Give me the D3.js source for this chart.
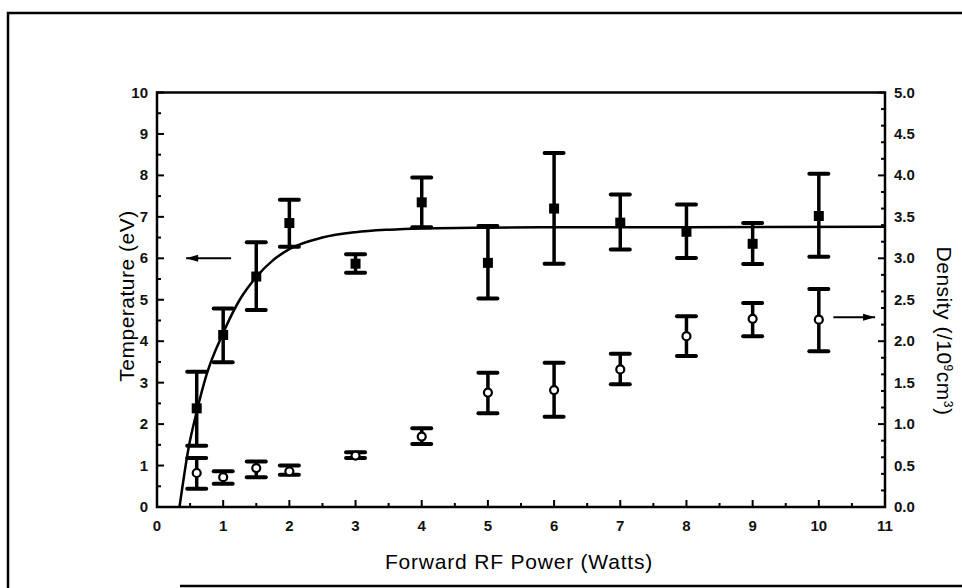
<!DOCTYPE html>
<html><head><meta charset="utf-8">
<script src="https://cdn.jsdelivr.net/npm/d3@7"></script>
<style>
body{margin:0;background:#fff;}
svg{display:block;font-family:"Liberation Sans",Arial,sans-serif;}
</style></head>
<body>
<svg id="c" width="962" height="588"></svg>
<script>
// Temperature (eV), filled squares, left axis
const powerT = [0.6, 1, 1.5, 2, 3, 4, 5, 6, 7, 8, 9, 10];
const tempVal = [2.38, 4.15, 5.56, 6.85, 5.87, 7.35, 5.89, 7.2, 6.86, 6.64, 6.35, 7.02];
const tempLo  = [1.48, 3.49, 4.75, 6.28, 5.65, 6.75, 5.03, 5.87, 6.21, 6.01, 5.86, 6.04];
const tempHi  = [3.26, 4.79, 6.39, 7.41, 6.1, 7.95, 6.78, 8.54, 7.54, 7.3, 6.85, 8.04];
// Density (/10^9 cm^3), open circles, right axis
const powerD = [0.6, 1, 1.5, 2, 3, 4, 5, 6, 7, 8, 9, 10];
const densVal = [0.41, 0.36, 0.47, 0.43, 0.62, 0.85, 1.38, 1.41, 1.66, 2.06, 2.27, 2.26];
const densLo  = [0.22, 0.28, 0.36, 0.39, 0.59, 0.76, 1.13, 1.09, 1.48, 1.82, 2.06, 1.88];
const densHi  = [0.59, 0.43, 0.55, 0.5, 0.66, 0.95, 1.62, 1.74, 1.85, 2.3, 2.46, 2.63];
// Fit curve (temperature)
const fitX = [0.34, 0.48, 0.6, 0.75, 1, 1.25, 1.5, 1.75, 2, 2.5, 3, 3.5, 4, 5, 6, 8, 11];
const fitY = [0, 1.45, 2.3, 3.2, 4.2, 5.0, 5.55, 5.95, 6.22, 6.5, 6.63, 6.69, 6.72, 6.74, 6.75, 6.75, 6.76];
// Tick labels
const xTicks = [0,1,2,3,4,5,6,7,8,9,10,11];
const yLeftTicks = [0,1,2,3,4,5,6,7,8,9,10];
const yRightTicks = [0,0.5,1,1.5,2,2.5,3,3.5,4,4.5,5];

const svg = d3.select("#c");
const L = 157, R = 885, T = 92.5, B = 507;
const x = d3.scaleLinear().domain([0,11]).range([L,R]);
const yL = d3.scaleLinear().domain([0,10]).range([B,T]);
const yR = d3.scaleLinear().domain([0,5]).range([B,T]);

// outer frame
svg.append("path").attr("d",`M8,588 L8,13 L962,13`).attr("fill","none").attr("stroke","#000").attr("stroke-width",2.5);
svg.append("line").attr("x1",180).attr("x2",962).attr("y1",586).attr("y2",586).attr("stroke","#000").attr("stroke-width",2.5);

const isMajor = (d,step)=>Math.abs(d/step-Math.round(d/step))<1e-6;

// bottom axis (inward ticks)
const gx = svg.append("g");
gx.selectAll("line").data(x.ticks(22)).join("line")
  .attr("x1",d=>x(d)).attr("x2",d=>x(d)).attr("y1",B).attr("y2",d=>B-(isMajor(d,1)?7:4))
  .attr("stroke","#000").attr("stroke-width",2);
gx.selectAll("text").data(xTicks).join("text").attr("x",d=>x(d)).attr("y",B+24)
  .attr("text-anchor","middle").attr("font-size",15).attr("font-weight","bold").attr("fill","#111").text(d=>d);

// left axis
const gl = svg.append("g");
gl.selectAll("line").data(yL.ticks(20)).join("line")
  .attr("y1",d=>yL(d)).attr("y2",d=>yL(d)).attr("x1",L).attr("x2",d=>L+(isMajor(d,1)?7:4))
  .attr("stroke","#000").attr("stroke-width",2);
gl.selectAll("text").data(yLeftTicks).join("text").attr("x",L-9).attr("y",d=>yL(d)+5)
  .attr("text-anchor","end").attr("font-size",15).attr("font-weight","bold").attr("fill","#111").text(d=>d);

// right axis
const gr = svg.append("g");
gr.selectAll("line").data(yR.ticks(20)).join("line")
  .attr("y1",d=>yR(d)).attr("y2",d=>yR(d)).attr("x1",R).attr("x2",d=>R-(isMajor(d,0.5)?7:4))
  .attr("stroke","#000").attr("stroke-width",2);
gr.selectAll("text").data(yRightTicks).join("text").attr("x",R+9).attr("y",d=>yR(d)+5)
  .attr("text-anchor","start").attr("font-size",15).attr("font-weight","bold").attr("fill","#111").text(d=>d3.format(".1f")(d));

// plot frame
svg.append("rect").attr("x",L).attr("y",T).attr("width",R-L).attr("height",B-T)
  .attr("fill","none").attr("stroke","#000").attr("stroke-width",2.5);

// axis titles
svg.append("text").attr("transform",`translate(134,296) rotate(-90)`)
  .attr("text-anchor","middle").attr("font-size",21).attr("letter-spacing",0.5).text("Temperature (eV)");
svg.append("text").attr("x",(L+R)/2-2).attr("y",569)
  .attr("text-anchor","middle").attr("font-size",21).attr("letter-spacing",0.8).text("Forward RF Power (Watts)");
const dt = svg.append("text").attr("transform",`translate(937,331) rotate(90)`)
  .attr("text-anchor","middle").attr("font-size",21).attr("letter-spacing",0.5);
dt.append("tspan").text("Density (/10");
dt.append("tspan").attr("dy",-7).attr("font-size",12).text("9");
dt.append("tspan").attr("dy",7).text("cm");
dt.append("tspan").attr("dy",-7).attr("font-size",12).text("3");
dt.append("tspan").attr("dy",7).text(")");

// fit curve
const fit = fitX.map((v,i)=>[v,fitY[i]]);
svg.append("path").datum(fit)
  .attr("d",d3.line().x(d=>x(d[0])).y(d=>yL(d[1])).curve(d3.curveMonotoneX))
  .attr("fill","none").attr("stroke","#000").attr("stroke-width",2.5);

// error bars
function errBars(xs, lo, hi, ys){
  const g = svg.append("g");
  g.selectAll("line.v").data(xs).join("line").attr("class","v")
    .attr("x1",d=>x(d)).attr("x2",d=>x(d)).attr("y1",(d,i)=>ys(lo[i])).attr("y2",(d,i)=>ys(hi[i]))
    .attr("stroke","#000").attr("stroke-width",3.5);
  ["lo","hi"].forEach(k=>{
    const arr = k==="lo"?lo:hi;
    g.selectAll("line."+k).data(xs).join("line").attr("class",k)
      .attr("x1",d=>x(d)-9.5).attr("x2",d=>x(d)+9.5).attr("y1",(d,i)=>ys(arr[i])).attr("y2",(d,i)=>ys(arr[i]))
      .attr("stroke","#000").attr("stroke-width",4).attr("stroke-linecap","round");
  });
}
errBars(powerT, tempLo, tempHi, yL);
errBars(powerD, densLo, densHi, yR);

// markers
svg.append("g").selectAll("rect").data(powerT).join("rect")
  .attr("x",d=>x(d)-5).attr("y",(d,i)=>yL(tempVal[i])-5).attr("width",10).attr("height",10).attr("fill","#000");
svg.append("g").selectAll("circle").data(powerD).join("circle")
  .attr("cx",d=>x(d)).attr("cy",(d,i)=>yR(densVal[i])).attr("r",4)
  .attr("fill","#fff").attr("stroke","#000").attr("stroke-width",2.2);

// arrows
const arrow = (x1,y1,x2,y2)=>{
  svg.append("line").attr("x1",x1).attr("y1",y1).attr("x2",x2).attr("y2",y2).attr("stroke","#000").attr("stroke-width",2);
  const dir = Math.sign(x2-x1);
  svg.append("path").attr("d",`M${x2},${y2} L${x2-dir*12},${y2-3.5} L${x2-dir*12},${y2+3.5} Z`).attr("fill","#000");
};
arrow(x(1.12), yL(6), x(0.44), yL(6));
arrow(x(10.22), yR(2.29), x(10.85), yR(2.29));
</script>
</body></html>
